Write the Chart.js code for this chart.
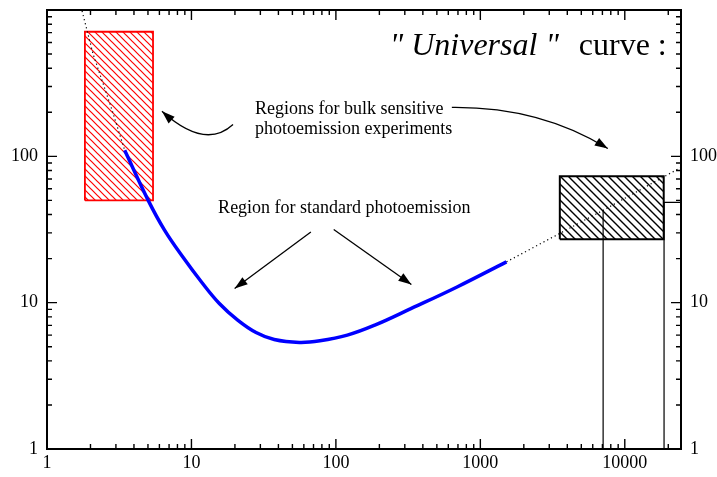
<!DOCTYPE html>
<html>
<head>
<meta charset="utf-8">
<script src="https://cdn.jsdelivr.net/npm/chart.js@4.4.1/dist/chart.umd.min.js"></script>
<style>
  html, body { margin: 0; padding: 0; background: #fff; }
  #wrap { width: 717px; height: 477px; }
</style>
</head>
<body>
<div id="wrap"><canvas id="curve"></canvas></div>
<script>
// kinetic energy (eV) vs. mean free path
const curveEnergy = [3.45, 5.02, 6.51, 8.72, 11.7, 15.6, 20.9, 28.0, 37.4, 55.9, 77.5, 120, 186, 333, 690, 1516];
const curveDepth = [110, 50.0, 31.3, 20.5, 13.9, 9.87, 7.6, 6.25, 5.6, 5.35, 5.49, 6.0, 7.02, 9.13, 12.8, 19.0];

// dotted extrapolation at both ends
const lowTailEnergy = [1.72, 2.08, 2.82, 3.45];
const lowTailDepth = [1050, 504, 207, 110];
const highTailEnergy = [1516, 7080, 24500];
const highTailDepth = [19.0, 42.8, 84.1];

// bulk sensitive regions (hatched boxes)
const redBoxEnergy = [1.83, 5.42];
const redBoxDepth = [50, 710];
const blackBoxEnergy = [3550, 18600];
const blackBoxDepth = [27.1, 73];

// the two step lines on the right
const edgeAEnergy = [7080, 7080];
const edgeADepth = [1, 42.8];
const edgeBEnergy = [18700, 18700, 24500];
const edgeBDepth = [1, 48.5, 48.5];

// axes
const xRange = [1, 24500];
const yRange = [1, 1000];
const xTickLabels = ["1", "10", "100", "1000", "10000"];
const yTickLabels = ["1", "10", "100"];
const tickSteps = [1, 2, 3, 4, 5, 6, 7, 8, 9];

function logTicks(min, max) {
  const out = [];
  for (let d = min; d <= max; d *= 10) {
    tickSteps.forEach(s => { if (s * d <= max) out.push({ value: s * d }); });
  }
  return out;
}

function isDecade(v) {
  const l = Math.log10(v);
  return Math.abs(l - Math.round(l)) < 1e-9;
}

function pairs(xs, ys) {
  return xs.map((x, i) => ({ x: x, y: ys[i] }));
}

function box(xs, ys) {
  return pairs([xs[0], xs[0], xs[1], xs[1], xs[0]], [ys[0], ys[1], ys[1], ys[0], ys[0]]);
}

function hatch(color, size, width) {
  const c = document.createElement("canvas");
  c.width = size; c.height = size;
  const g = c.getContext("2d");
  g.strokeStyle = color;
  g.lineWidth = width;
  g.beginPath();
  g.moveTo(0, 0); g.lineTo(size, size);
  g.moveTo(-2, size - 2); g.lineTo(2, size + 2);
  g.moveTo(size - 2, -2); g.lineTo(size + 2, 2);
  g.stroke();
  return g.createPattern(c, "repeat");
}

const serif = '"Liberation Serif", "Times New Roman", serif';

// annotation layout, in data units (energy, depth)
const notes = [
  { text: "Regions for bulk sensitive", at: [27.5, 196], font: "18px " + serif },
  { text: "photoemission experiments", at: [27.5, 141], font: "18px " + serif },
  { text: "Region for standard photoemission", at: [15.3, 40.8], font: "18px " + serif },
  { text: "\" Universal \"", at: [236, 489], font: "italic 32px " + serif },
  { text: "curve :", at: [4805, 489], font: "32px " + serif }
];
const arrows = [
  { from: [19.4, 165], via: [12.4, 110], to: [6.25, 203] },
  { from: [635, 216], via: [2581, 219], to: [7628, 113] },
  { from: [67.1, 30.4], to: [19.9, 12.5] },
  { from: [96.6, 31.6], to: [333, 13.3] }
];

const frameAndTicks = {
  id: "frameAndTicks",
  afterDatasetsDraw(chart) {
    const { ctx, chartArea: a, scales: { x, y } } = chart;
    ctx.save();
    ctx.strokeStyle = "#000";
    ctx.lineWidth = 1.4;
    ctx.beginPath();
    x.ticks.forEach(t => {
      const px = x.getPixelForValue(t.value);
      if (px < a.left + 1 || px > a.right - 1) return;
      const len = isDecade(t.value) ? 10 : 5;
      ctx.moveTo(px, a.bottom); ctx.lineTo(px, a.bottom - len);
      ctx.moveTo(px, a.top); ctx.lineTo(px, a.top + len);
    });
    y.ticks.forEach(t => {
      const py = y.getPixelForValue(t.value);
      if (py < a.top + 1 || py > a.bottom - 1) return;
      const len = isDecade(t.value) ? 10 : 5;
      ctx.moveTo(a.left, py); ctx.lineTo(a.left + len, py);
      ctx.moveTo(a.right, py); ctx.lineTo(a.right - len, py);
    });
    ctx.stroke();
    ctx.lineWidth = 2;
    ctx.strokeRect(a.left, a.top, a.width, a.height);
    ctx.restore();
  }
};

const annotations = {
  id: "annotations",
  afterDatasetsDraw(chart) {
    const { ctx, scales: { x, y } } = chart;
    const px = p => [x.getPixelForValue(p[0]), y.getPixelForValue(p[1])];
    ctx.save();
    ctx.fillStyle = "#000";
    ctx.textBaseline = "alphabetic";
    notes.forEach(n => {
      const [tx, ty] = px(n.at);
      ctx.font = n.font;
      ctx.fillText(n.text, tx, ty);
    });
    ctx.strokeStyle = "#000";
    ctx.lineWidth = 1.3;
    arrows.forEach(ar => {
      const [x0, y0] = px(ar.from);
      const [x1, y1] = px(ar.to);
      let dx, dy;
      ctx.beginPath();
      ctx.moveTo(x0, y0);
      if (ar.via) {
        const [cx, cy] = px(ar.via);
        ctx.quadraticCurveTo(cx, cy, x1, y1);
        dx = x1 - cx; dy = y1 - cy;
      } else {
        ctx.lineTo(x1, y1);
        dx = x1 - x0; dy = y1 - y0;
      }
      ctx.stroke();
      const ang = Math.atan2(dy, dx);
      const len = 13, half = 4.5;
      ctx.beginPath();
      ctx.moveTo(x1, y1);
      ctx.lineTo(x1 - len * Math.cos(ang) + half * Math.sin(ang), y1 - len * Math.sin(ang) - half * Math.cos(ang));
      ctx.lineTo(x1 - len * Math.cos(ang) - half * Math.sin(ang), y1 - len * Math.sin(ang) + half * Math.cos(ang));
      ctx.closePath();
      ctx.fill();
    });
    ctx.restore();
  }
};

function logAxis(position, range, labels, size, showLabels) {
  const horizontal = position === "top" || position === "bottom";
  return {
    type: "logarithmic",
    position: position,
    min: range[0],
    max: range[1],
    grid: { display: false, drawTicks: false },
    border: { display: false },
    afterBuildTicks: s => { s.ticks = logTicks(range[0], range[1]); },
    afterFit: s => {
      if (horizontal) s.height = size; else s.width = size;
      s.paddingTop = 0; s.paddingBottom = 0;
      s.paddingLeft = 0; s.paddingRight = 0;
    },
    ticks: {
      display: showLabels,
      autoSkip: false,
      maxRotation: 0,
      padding: horizontal ? 3 : 9,
      color: "#000",
      font: { family: serif, size: 18 },
      callback: v => labels.includes(String(v)) ? String(v) : ""
    }
  };
}

new Chart(document.getElementById("curve"), {
  type: "scatter",
  data: {
    datasets: [
      {
        data: pairs(curveEnergy, curveDepth),
        showLine: true,
        borderColor: "#0000ff",
        borderWidth: 3.5,
        pointRadius: 0,
        tension: 0.4
      },
      {
        data: pairs(lowTailEnergy, lowTailDepth),
        showLine: true,
        borderColor: "#000",
        borderWidth: 1.2,
        borderDash: [1.2, 3],
        pointRadius: 0
      },
      {
        data: pairs(highTailEnergy, highTailDepth),
        showLine: true,
        borderColor: "#000",
        borderWidth: 1.2,
        borderDash: [1.2, 3],
        pointRadius: 0
      },
      {
        data: pairs(edgeAEnergy, edgeADepth),
        showLine: true,
        borderColor: "#000",
        borderWidth: 1.2,
        pointRadius: 0
      },
      {
        data: pairs(edgeBEnergy, edgeBDepth),
        showLine: true,
        borderColor: "#000",
        borderWidth: 1.2,
        pointRadius: 0
      },
      {
        data: box(blackBoxEnergy, blackBoxDepth),
        showLine: true,
        borderColor: "#000",
        borderWidth: 2,
        backgroundColor: hatch("#000", 8, 1.4),
        fill: "shape",
        pointRadius: 0
      },
      {
        data: box(redBoxEnergy, redBoxDepth),
        showLine: true,
        borderColor: "#ff0000",
        borderWidth: 1.8,
        backgroundColor: hatch("#ff0000", 7, 1.2),
        fill: "shape",
        pointRadius: 0
      }
    ]
  },
  options: {
    responsive: true,
    maintainAspectRatio: false,
    animation: false,
    layout: { padding: 0 },
    plugins: { legend: { display: false }, tooltip: { enabled: false } },
    scales: {
      x: logAxis("bottom", xRange, xTickLabels, 28, true),
      x2: logAxis("top", xRange, [], 10, false),
      y: logAxis("left", yRange, yTickLabels, 47, true),
      y2: logAxis("right", yRange, yTickLabels, 36, true)
    }
  },
  plugins: [frameAndTicks, annotations]
});
</script>
</body>
</html>
